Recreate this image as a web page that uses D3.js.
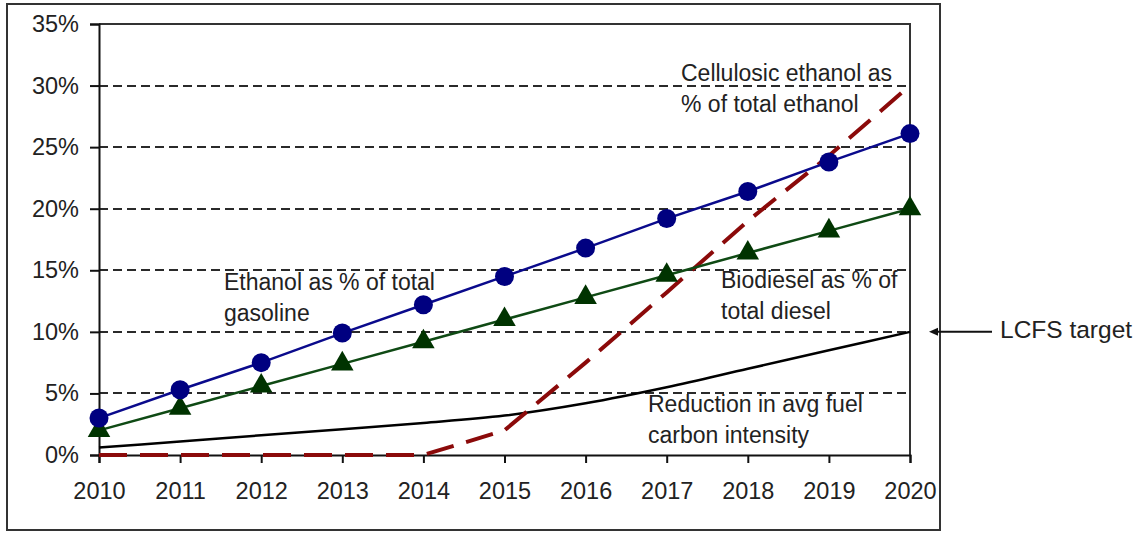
<!DOCTYPE html>
<html>
<head>
<meta charset="UTF-8">
<title>LCFS scenario</title>
<style>
body { margin: 0; background: #fff; }
text { font-family: "Liberation Sans", Arial, sans-serif; fill: #222; }
</style>
</head>
<body>
<svg width="1141" height="533"></svg>
<script src="https://d3js.org/d3.v7.min.js"></script>
<script>
// years on the x axis
var years = [2010, 2011, 2012, 2013, 2014, 2015, 2016, 2017, 2018, 2019, 2020];
var yTicks = [0, 5, 10, 15, 20, 25, 30, 35];

// series, percent values
var ethanolGasoline = [3.0, 5.3, 7.5, 9.9, 12.2, 14.5, 16.8, 19.2, 21.4, 23.8, 26.1];
var biodieselDiesel = [2.0, 3.8, 5.6, 7.4, 9.2, 11.0, 12.8, 14.6, 16.4, 18.2, 20.0];
var cellulosicEthanol = [0, 0, 0, 0, 0, 2.0, 7.5, 13.2, 19.0, 24.3, 30.0];
var carbonReduction = [0.6, 1.1, 1.6, 2.1, 2.6, 3.2, 4.2, 5.5, 7.0, 8.5, 10.0];

// plot box (note: "top" is taken by window.top, so use other names)
var svg = d3.select("svg"),
    plotL = 99, plotR = 910, plotT = 24, plotB = 455;

var x = d3.scaleLinear().domain([2010, 2020]).range([plotL, plotR]);
var y = d3.scaleLinear().domain([0, 35]).range([plotB, plotT]);

// outer frame
svg.append("rect")
  .attr("x", 7).attr("y", 4)
  .attr("width", 933).attr("height", 526)
  .attr("fill", "none")
  .attr("stroke", "#333")
  .attr("stroke-width", 2);

// dashed gridlines
svg.append("g").selectAll("line")
  .data(yTicks.filter(function(d) { return d > 0 && d < 35; }))
  .enter().append("line")
  .attr("x1", plotL).attr("x2", plotR)
  .attr("y1", function(d) { return Math.round(y(d)); })
  .attr("y2", function(d) { return Math.round(y(d)); })
  .attr("stroke", "#2a2a2a")
  .attr("stroke-width", 2)
  .attr("shape-rendering", "crispEdges")
  .attr("stroke-dasharray", "9,5");

// top and right border of plot
svg.append("path")
  .attr("d", "M" + plotL + "," + plotT + "H" + plotR + "V" + plotB)
  .attr("fill", "none")
  .attr("stroke", "#333")
  .attr("stroke-width", 2);

var yAxis = svg.append("g")
  .attr("transform", "translate(" + plotL + ",0)")
  .call(d3.axisLeft(y).tickValues(yTicks).tickSize(9).tickPadding(11)
        .tickFormat(function(d) { return d + "%"; }));

var xAxis = svg.append("g")
  .attr("transform", "translate(0," + plotB + ")")
  .call(d3.axisBottom(x).tickValues(years).tickSize(8).tickPadding(19)
        .tickFormat(d3.format("d")));

[yAxis, xAxis].forEach(function(a) {
  a.selectAll(".domain").attr("stroke", "#111").attr("stroke-width", 2);
  a.selectAll(".tick line").attr("stroke", "#111").attr("stroke-width", 2);
  a.selectAll("text")
    .style("font-family", "'Liberation Sans', Arial, sans-serif")
    .style("font-size", "23.5px")
    .attr("fill", "#222");
});

function series(values) {
  return years.map(function(yr, i) { return { x: yr, v: values[i] }; });
}

var line = d3.line()
  .x(function(d) { return x(d.x); })
  .y(function(d) { return y(d.v); });

var smooth = d3.line()
  .curve(d3.curveMonotoneX)
  .x(function(d) { return x(d.x); })
  .y(function(d) { return y(d.v); });

// reduction in carbon intensity
svg.append("path")
  .datum(series(carbonReduction))
  .attr("d", smooth)
  .attr("fill", "none")
  .attr("stroke", "#000")
  .attr("stroke-width", 2.5);

// cellulosic ethanol, long dash
svg.append("path")
  .datum(series(cellulosicEthanol))
  .attr("d", line)
  .attr("fill", "none")
  .attr("stroke", "#8b0a0a")
  .attr("stroke-width", 4)
  .attr("stroke-dasharray", "28,13");

// biodiesel
svg.append("path")
  .datum(series(biodieselDiesel))
  .attr("d", line)
  .attr("fill", "none")
  .attr("stroke", "#0f4a14")
  .attr("stroke-width", 2.5);

svg.append("g").selectAll("path")
  .data(series(biodieselDiesel))
  .enter().append("path")
  .attr("d", d3.symbol().type(d3.symbolTriangle).size(220))
  .attr("transform", function(d) { return "translate(" + x(d.x) + "," + y(d.v) + ")"; })
  .attr("fill", "#003300");

// ethanol
svg.append("path")
  .datum(series(ethanolGasoline))
  .attr("d", line)
  .attr("fill", "none")
  .attr("stroke", "#0a0a8c")
  .attr("stroke-width", 2.5);

svg.append("g").selectAll("circle")
  .data(series(ethanolGasoline))
  .enter().append("circle")
  .attr("cx", function(d) { return x(d.x); })
  .attr("cy", function(d) { return y(d.v); })
  .attr("r", 9.5)
  .attr("fill", "#000080");

// annotations
var notes = [
  { lines: ["Cellulosic ethanol as", "% of total ethanol"], x: 681, y: 81 },
  { lines: ["Ethanol as % of total", "gasoline"], x: 224, y: 290 },
  { lines: ["Biodiesel as % of", "total diesel"], x: 721, y: 288 },
  { lines: ["Reduction in avg fuel", "carbon intensity"], x: 648, y: 412 }
];

notes.forEach(function(n) {
  var t = svg.append("text")
    .attr("x", n.x).attr("y", n.y)
    .style("font-size", "23px");
  n.lines.forEach(function(s, i) {
    t.append("tspan")
      .attr("x", n.x)
      .attr("dy", i === 0 ? 0 : 31)
      .text(s);
  });
});

// LCFS target arrow
var ay = y(10);
svg.append("line")
  .attr("x1", 992).attr("x2", 936)
  .attr("y1", ay).attr("y2", ay)
  .attr("stroke", "#111")
  .attr("stroke-width", 2);
svg.append("path")
  .attr("d", "M929," + ay + "L938," + (ay - 4) + "L938," + (ay + 4) + "Z")
  .attr("fill", "#111");
svg.append("text")
  .attr("x", 1000).attr("y", ay + 6)
  .style("font-size", "24.5px")
  .text("LCFS target");
</script>
</body>
</html>
